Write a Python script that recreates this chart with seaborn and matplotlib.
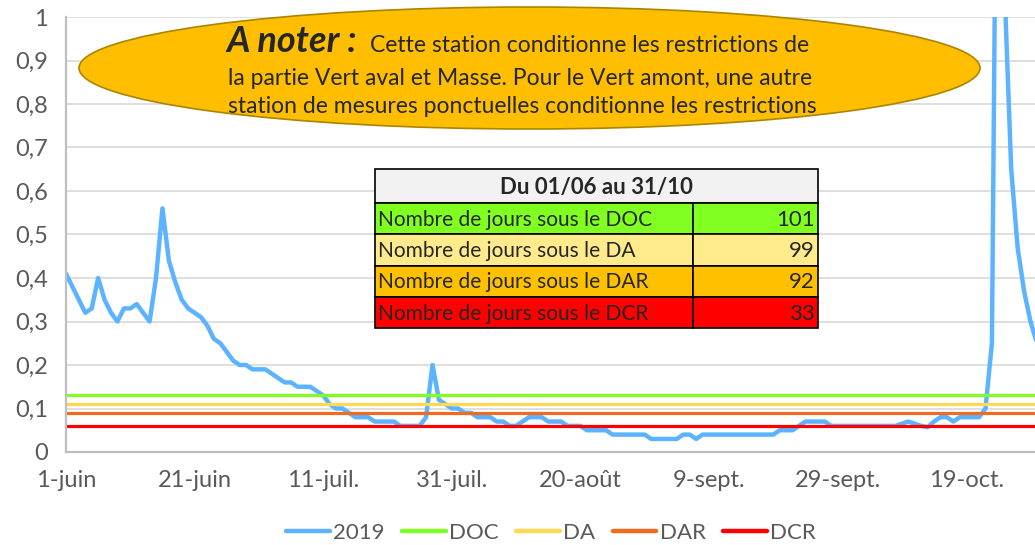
import numpy as np
import pandas as pd
import seaborn as sns
import matplotlib.pyplot as plt
from matplotlib.patches import Ellipse, Rectangle
from matplotlib.ticker import FuncFormatter, MultipleLocator

sns.set_style("white")
plt.rcParams['font.family'] = ['Lato', 'DejaVu Sans']

# débit journalier 2019 (1er juin -> 30 oct.)
debit_2019 = [
    0.41, 0.38, 0.35, 0.32, 0.33, 0.40, 0.35, 0.32, 0.30, 0.33,
    0.33, 0.34, 0.32, 0.30, 0.40, 0.56, 0.44, 0.39, 0.35, 0.33,
    0.32, 0.31, 0.29, 0.26, 0.25, 0.23, 0.21, 0.20, 0.20, 0.19,
    0.19, 0.19, 0.18, 0.17, 0.16, 0.16, 0.15, 0.15, 0.15, 0.14,
    0.13, 0.11, 0.10, 0.10, 0.09, 0.08, 0.08, 0.08, 0.07, 0.07,
    0.07, 0.07, 0.06, 0.06, 0.06, 0.06, 0.08, 0.20, 0.12, 0.11,
    0.10, 0.10, 0.09, 0.09, 0.08, 0.08, 0.08, 0.07, 0.07, 0.06,
    0.06, 0.07, 0.08, 0.08, 0.08, 0.07, 0.07, 0.07, 0.06, 0.06,
    0.06, 0.05, 0.05, 0.05, 0.05, 0.04, 0.04, 0.04, 0.04, 0.04,
    0.04, 0.03, 0.03, 0.03, 0.03, 0.03, 0.04, 0.04, 0.03, 0.04,
    0.04, 0.04, 0.04, 0.04, 0.04, 0.04, 0.04, 0.04, 0.04, 0.04,
    0.04, 0.05, 0.05, 0.05, 0.06, 0.07, 0.07, 0.07, 0.07, 0.06,
    0.06, 0.06, 0.06, 0.06, 0.06, 0.06, 0.06, 0.06, 0.06, 0.06,
    0.065, 0.07, 0.065, 0.06, 0.057, 0.07, 0.08, 0.08, 0.07, 0.08,
    0.08, 0.08, 0.08, 0.10, 0.25, 2.0, 1.05, 0.65, 0.47, 0.37,
    0.30, 0.25,
]

seuil_noms = ["DOC", "DA", "DAR", "DCR"]
seuil_valeurs = [0.13, 0.11, 0.09, 0.06]
seuil_couleurs = ["#80FF20", "#FFD952", "#F26A21", "#FF0000"]
couleur_2019 = "#5CB3FF"

tick_jours = [0, 20, 40, 60, 80, 100, 120, 140]
tick_labels = ["1-juin", "21-juin", "11-juil.", "31-juil.", "20-août",
               "9-sept.", "29-sept.", "19-oct."]

tableau_titre = "Du 01/06 au 31/10"
tableau_lignes = ["Nombre de jours sous le DOC", "Nombre de jours sous le DA",
                  "Nombre de jours sous le DAR", "Nombre de jours sous le DCR"]
tableau_jours = [101, 99, 92, 33]
tableau_couleurs = ["#80FF20", "#FFEB8C", "#FFC000", "#FF0000"]

note_titre = "A noter :"
note_lignes = ["Cette station conditionne les restrictions de",
               "la partie Vert aval et Masse. Pour le Vert amont, une autre",
               "station de mesures ponctuelles conditionne les restrictions"]

jours = np.arange(len(debit_2019))
df = pd.DataFrame({"jour": jours, "debit": debit_2019})
seuils = pd.concat([
    pd.DataFrame({"jour": jours, "valeur": v, "seuil": n})
    for n, v in zip(seuil_noms, seuil_valeurs)
])

W, H = 1035, 545
fig = plt.figure(figsize=(W / 100, H / 100), dpi=100)
ax = fig.add_axes([66 / W, 93 / H, 969 / W, 435 / H])


def px(x, y):
    return x / W, 1 - y / H


sns.lineplot(data=df, x="jour", y="debit", ax=ax, color=couleur_2019,
             linewidth=2.6, label="2019")
sns.lineplot(data=seuils, x="jour", y="valeur", hue="seuil",
             hue_order=seuil_noms, palette=seuil_couleurs, ax=ax,
             linewidth=2.3)

ax.set_xlim(0, 150.7)
ax.set_ylim(0, 1)
ax.set_xlabel("")
ax.set_ylabel("")
ax.set_xticks(tick_jours)
ax.set_xticklabels(tick_labels)
ax.yaxis.set_major_locator(MultipleLocator(0.1))
ax.yaxis.set_major_formatter(FuncFormatter(
    lambda v, p: f"{v:.1f}".rstrip("0").rstrip(".").replace(".", ",")))
ax.tick_params(length=0, labelsize=17, labelcolor="#595959")
ax.tick_params(axis="y", pad=13)
ax.tick_params(axis="x", pad=13)
ax.grid(axis="y", color="#D9D9D9", linewidth=1.2)
ax.set_axisbelow(True)
for s in ["top", "right"]:
    ax.spines[s].set_visible(False)
for s in ["left", "bottom"]:
    ax.spines[s].set_color("#BFBFBF")
    ax.spines[s].set_linewidth(1.6)

handles, labels = ax.get_legend_handles_labels()
for h in handles:
    h.set_linewidth(3.2)
ax.legend(handles, labels, loc="center", bbox_to_anchor=(*px(551, 533),),
          bbox_transform=fig.transFigure, ncol=5, frameon=False,
          handlelength=1.95, handletextpad=0.15, columnspacing=0.8,
          fontsize=16, labelcolor="#595959")

# ellipse "A noter"
fig.add_artist(Ellipse(px(529.5, 68), 901 / W, 122 / H,
                       transform=fig.transFigure, facecolor="#FFBE00",
                       edgecolor="#A98500", linewidth=1.2, zorder=5))
fig.text(*px(226, 52), note_titre, fontsize=26, fontweight="bold",
         fontstyle="italic", color="#262626", va="baseline", zorder=6)
fig.text(*px(370, 52), note_lignes[0], fontsize=16.5, color="#262626",
         va="baseline", zorder=6)
fig.text(*px(228, 85), note_lignes[1], fontsize=16.5, color="#262626",
         va="baseline", zorder=6)
fig.text(*px(228, 113), note_lignes[2], fontsize=16.5, color="#262626",
         va="baseline", zorder=6)

# tableau des jours sous seuil
tx0, tx1, tcol = 375, 818, 693
ty = [169, 203, 234, 266, 297, 328]
fig.add_artist(Rectangle(px(tx0, ty[1]), (tx1 - tx0) / W, (ty[1] - ty[0]) / H,
                         transform=fig.transFigure, facecolor="#F2F2F2",
                         edgecolor="black", linewidth=1.2, zorder=5))
fig.text(*px((tx0 + tx1) / 2, (ty[0] + ty[1]) / 2 + 1), tableau_titre,
         fontsize=16, fontweight="bold", color="#262626",
         ha="center", va="center", zorder=6)
for i, (lab, val, col) in enumerate(zip(tableau_lignes, tableau_jours,
                                        tableau_couleurs)):
    y0, y1 = ty[i + 1], ty[i + 2]
    fig.add_artist(Rectangle(px(tx0, y1), (tcol - tx0) / W, (y1 - y0) / H,
                             transform=fig.transFigure, facecolor=col,
                             edgecolor="black", linewidth=1.2, zorder=5))
    fig.add_artist(Rectangle(px(tcol, y1), (tx1 - tcol) / W, (y1 - y0) / H,
                             transform=fig.transFigure, facecolor=col,
                             edgecolor="black", linewidth=1.2, zorder=5))
    fig.text(*px(tx0 + 3, (y0 + y1) / 2 + 1), lab, fontsize=15,
             color="#262626", ha="left", va="center", zorder=6)
    fig.text(*px(tx1 - 3, (y0 + y1) / 2 + 1), str(val), fontsize=16,
             color="#262626", ha="right", va="center", zorder=6)

fig.savefig("out.png", dpi=100)
